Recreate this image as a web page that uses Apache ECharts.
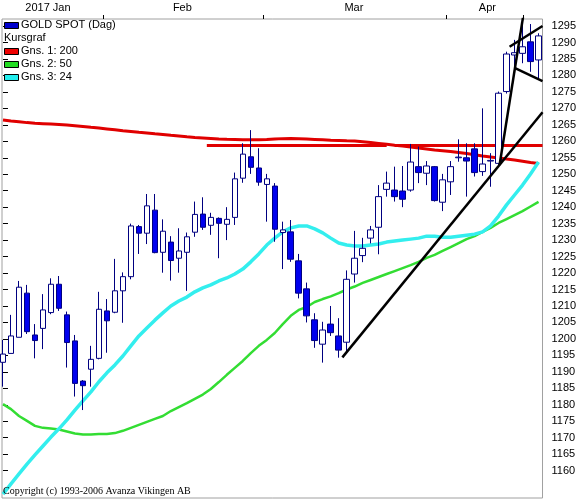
<!DOCTYPE html>
<html>
<head>
<meta charset="utf-8">
<script src="https://cdn.jsdelivr.net/npm/echarts/dist/echarts.min.js"></script>
<style>
html,body{margin:0;padding:0;background:#fff;}
#chart{width:579px;height:500px;}
</style>
</head>
<body>
<div id="chart"></div>
<script>
// ---- data (index = trading day, 2017-01-13 .. 2017-04-18) ----
const monthLabels = ['2017 Jan', 'Feb', 'Mar', 'Apr'];
const monthLabelPos = [5.625, 22.44, 43.9, 60.6];
const monthTickPos = [12.5, 32.5, 55.5, 65.125];
const priceTicks = [1160,1165,1170,1175,1180,1185,1190,1195,1200,1205,1210,1215,1220,1225,1230,1235,1240,1245,1250,1255,1260,1265,1270,1275,1280,1285,1290,1295];

const opens  = [1192.9,1195.6,1200.5,1213.9,1201.2,1203.2,1208.0,1216.6,1207.3,1199.4,1187.2,1190.8,1194.1,1208.5,1208.1,1214.6,1218.9,1234.1,1232.1,1239.1,1226.3,1229.4,1224.5,1226.3,1232.4,1237.9,1234.5,1236.6,1234.8,1236.9,1248.8,1255.3,1251.9,1246.9,1246.4,1232.3,1232.5,1223.7,1215.2,1205.8,1198.4,1204.5,1200.9,1199.0,1219.7,1225.3,1230.6,1233.9,1245.4,1245.2,1244.9,1245.2,1252.3,1250.3,1252.3,1241.5,1247.7,1255.0,1255.0,1257.7,1250.8,1254.0,1253.3,1275.1,1286.2,1286.7,1290.2,1284.7];
const closes = [1195.4,1200.9,1215.7,1202.2,1199.5,1208.8,1216.6,1209.3,1198.9,1186.5,1185.8,1193.8,1209.0,1205.5,1214.6,1218.9,1234.3,1232.1,1240.4,1226.2,1232.7,1223.8,1226.7,1231.0,1237.8,1233.9,1236.9,1235.1,1236.3,1248.6,1256.1,1252.1,1247.6,1248.6,1233.3,1233.1,1224.2,1213.9,1207.0,1199.5,1202.7,1201.9,1196.6,1218.1,1224.5,1227.5,1233.1,1243.2,1247.3,1243.2,1242.4,1253.7,1250.5,1252.5,1242.0,1248.3,1252.3,1255.2,1254.0,1250.5,1253.1,1254.2,1274.6,1286.5,1286.9,1288.7,1284.2,1292.0];
const lows   = [1185.5,1195.6,1200.5,1201.5,1194.1,1196.9,1207.5,1208.5,1191.3,1182.5,1178.4,1185.5,1193.8,1195.8,1207.8,1204.9,1218.1,1225.8,1228.8,1226.0,1220.1,1217.7,1220.1,1214.6,1231.0,1233.1,1231.6,1224.5,1230.0,1234.6,1247.4,1250.1,1246.5,1235.6,1229.5,1221.2,1223.4,1212.3,1205.0,1197.3,1192.8,1200.9,1194.3,1196.1,1217.1,1223.3,1229.0,1225.7,1243.2,1241.7,1240.0,1244.7,1247.3,1246.7,1241.7,1238.8,1243.7,1253.8,1243.2,1249.3,1249.5,1246.2,1252.5,1274.5,1282.6,1283.7,1281.1,1278.6];
const highs  = [1199.7,1207.3,1217.6,1216.4,1204.5,1213.6,1218.4,1219.1,1208.3,1201.2,1187.5,1197.9,1214.3,1212.1,1224.3,1220.2,1235.0,1234.6,1244.0,1244.0,1236.3,1231.2,1233.6,1232.3,1241.7,1243.0,1238.3,1236.9,1240.0,1250.5,1259.4,1263.4,1257.9,1250.1,1247.3,1235.6,1236.1,1225.8,1217.1,1207.8,1205.2,1210.0,1206.3,1220.8,1232.8,1230.7,1234.3,1246.7,1250.8,1252.3,1252.5,1259.2,1258.4,1254.0,1252.5,1250.1,1254.0,1260.6,1259.4,1259.4,1270.0,1256.4,1275.1,1287.2,1290.8,1295.5,1295.6,1292.8];

const ma200 = [1266.46,1266.16,1265.92,1265.67,1265.46,1265.34,1265.22,1265.10,1264.95,1264.73,1264.49,1264.25,1264.03,1263.76,1263.49,1263.21,1262.97,1262.73,1262.52,1262.27,1262.06,1261.82,1261.60,1261.36,1261.15,1261.00,1260.85,1260.69,1260.60,1260.54,1260.48,1260.45,1260.45,1260.54,1260.69,1260.81,1260.85,1260.78,1260.69,1260.57,1260.45,1260.33,1260.24,1260.15,1260.09,1259.88,1259.63,1259.36,1259.09,1258.81,1258.57,1258.27,1257.96,1257.66,1257.36,1257.14,1256.90,1256.60,1256.29,1255.90,1255.53,1255.23,1254.93,1254.62,1254.32,1253.96,1253.56,1253.26];
const ma50 = [1180.2,1178.7,1176.6,1175.1,1173.6,1173.0,1172.8,1172.5,1171.9,1171.3,1171.0,1171.0,1171.1,1171.1,1171.4,1172.1,1173.0,1173.9,1174.8,1175.7,1176.6,1178.1,1179.3,1180.5,1181.8,1183.1,1184.8,1186.9,1189.1,1191.2,1193.3,1195.7,1197.9,1199.7,1201.8,1204.5,1207.0,1208.8,1209.7,1211.2,1212.1,1212.9,1213.9,1215.0,1215.9,1217.0,1217.9,1218.8,1219.7,1220.6,1221.5,1222.4,1223.4,1224.6,1225.5,1226.7,1227.9,1229.1,1230.3,1231.2,1232.5,1233.7,1235.2,1236.4,1237.6,1238.8,1240.2,1241.6];
const ma24 = [1152.9,1156.0,1159.0,1162.0,1164.8,1167.5,1170.2,1172.7,1175.4,1178.4,1181.2,1183.9,1187.0,1189.7,1192.1,1194.8,1197.9,1200.9,1203.3,1205.7,1207.9,1210.0,1211.5,1212.7,1214.3,1215.5,1216.4,1217.6,1218.5,1219.7,1221.2,1223.4,1225.8,1228.5,1230.6,1232.5,1233.7,1234.3,1234.3,1233.4,1232.2,1230.6,1229.1,1228.5,1228.2,1228.2,1228.5,1228.8,1229.4,1229.7,1230.0,1230.3,1230.6,1231.2,1231.2,1230.9,1230.9,1231.2,1231.5,1231.8,1232.5,1234.3,1237.3,1240.7,1243.7,1246.7,1250.1,1253.7];

// hand-drawn lines: [dayIndex, price]
const trendA = [[42.46,1194.4],[67.5,1268.8]];
const trendB = [[62.125,1252.8],[65.5,1304.4]];
const trendC = [[63.375,1288.7],[67.5,1295.0]];
const trendD = [[64.0,1282.3],[67.5,1278.3]];
const resist1 = [[25.5,1258.7],[48.0,1258.7]];
const resist2 = [[49.0,1258.7],[67.5,1258.7]];

const legendItems = [
  {name:'GOLD SPOT (Dag)', color:'#0000cc'},
  {name:'Kursgraf', color:null},
  {name:'Gns. 1: 200', color:'#ee0000'},
  {name:'Gns. 2: 50', color:'#22dd22'},
  {name:'Gns. 3: 24', color:'#22eeee'}
];

// ---- build ----
const candles = opens.map((o,i)=>[i, o, closes[i], lows[i], highs[i]]);
const idxPairs = arr => arr.map((v,i)=>[i,v]);

const FONT = 'Liberation Sans, Arial, sans-serif';
const chart = echarts.init(document.getElementById('chart'), null, {renderer:'canvas'});

const legendGraphics = [];
legendItems.forEach((it,k)=>{
  const cy = 25 + k*13;
  if (it.color) {
    legendGraphics.push({type:'rect', left:4, top:cy-3, shape:{width:14,height:6},
      style:{fill:it.color, stroke:'#000', lineWidth:1}, z:100});
    legendGraphics.push({type:'text', left:21, top:cy-6, style:{text:it.name, font:'11px '+FONT, fill:'#000'}, z:100});
  } else {
    legendGraphics.push({type:'text', left:4, top:cy-6, style:{text:it.name, font:'11px '+FONT, fill:'#000'}, z:100});
  }
});
legendGraphics.push({type:'text', left:3, top:486, style:{text:'Copyright (c) 1993-2006 Avanza Vikingen AB', font:'10px Liberation Serif, Times New Roman, serif', fill:'#000'}, z:100});

const lineSeries = (data, color, width, z) => ({
  type:'line', data, showSymbol:false, symbol:'none', clip:true, z,
  lineStyle:{color, width}, silent:true, animation:false
});

chart.setOption({
  animation:false,
  backgroundColor:'#fff',
  grid:{left:2, right:36, top:19, bottom:2, show:true, borderColor:'#a0a0a0', borderWidth:1, backgroundColor:'#fff'},
  xAxis:{
    type:'value', position:'top', min:-0.125, max:67.5,
    axisLine:{show:false},
    splitLine:{show:false},
    axisTick:{show:true, customValues:monthTickPos, length:4, lineStyle:{color:'#000'}},
    axisLabel:{show:true, customValues:monthLabelPos, margin:6, color:'#000', fontFamily:FONT, fontSize:11,
      formatter:(v)=>{ const k = monthLabelPos.findIndex(p=>Math.abs(p-v)<1e-6); return k>=0?monthLabels[k]:''; }}
  },
  yAxis:{
    type:'value', position:'right', min:1151.7, max:1297.13,
    axisLine:{show:false},
    splitLine:{show:false},
    axisTick:{show:true, customValues:priceTicks, length:5, lineStyle:{color:'#000'}},
    axisLabel:{show:true, customValues:priceTicks, margin:9, color:'#000', fontFamily:FONT, fontSize:11,
      formatter:(v)=>String(Math.round(v))}
  },
  graphic:legendGraphics,
  series:[
    lineSeries(idxPairs(ma200), '#e00000', 3, 2),
    lineSeries(resist1, '#e00000', 3, 2),
    lineSeries(resist2, '#e00000', 3, 2),
    lineSeries(idxPairs(ma50), '#33dd33', 2.5, 2),
    lineSeries(idxPairs(ma24), '#33eeee', 3.5, 2),
    {
      type:'candlestick', data:candles, encode:{x:0, y:[1,2,3,4]}, barWidth:6, z:3,
      itemStyle:{color:'#ffffff', color0:'#0000ee', borderColor:'#000080', borderColor0:'#000080', borderWidth:1}
    },
    lineSeries(trendA, '#000', 2.5, 4),
    lineSeries(trendB, '#000', 2.5, 4),
    lineSeries(trendC, '#000', 2.5, 4),
    lineSeries(trendD, '#000', 2.5, 4)
  ]
});
</script>
</body>
</html>
